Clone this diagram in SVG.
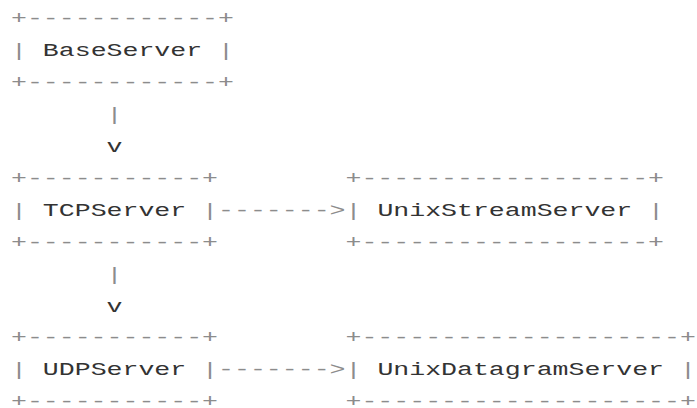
<svg xmlns="http://www.w3.org/2000/svg" width="697" height="408" viewBox="0 0 697 408">
<style>
text{font-family:"Liberation Mono","DejaVu Sans Mono",monospace;font-size:18px;white-space:pre;fill:#8c8c8c}
.t{fill:#333333}
</style>
<rect width="697" height="408" fill="#ffffff"/>
<g transform="scale(1.475,1)">
<g id="connectors">
<text x="72.26" y="120.2">|</text>
<text x="72.26" y="152.1" class="t">v</text>
<text x="72.26" y="279.7">|</text>
<text x="72.26" y="311.6" class="t">v</text>
<text x="147.86" y="215.9">-------&gt;</text>
<text x="147.86" y="375.4">-------&gt;</text>
</g>
<g id="BaseServer">
<text x="7.46" y="24.5">+------------+</text>
<text x="7.46" y="56.4" xml:space="preserve">| <tspan class="t">BaseServer</tspan> |</text>
<text x="7.46" y="88.3">+------------+</text>
</g>
<g id="TCPServer">
<text x="7.46" y="184">+-----------+</text>
<text x="7.46" y="215.9" xml:space="preserve">| <tspan class="t">TCPServer</tspan> |</text>
<text x="7.46" y="247.8">+-----------+</text>
</g>
<g id="UDPServer">
<text x="7.46" y="343.5">+-----------+</text>
<text x="7.46" y="375.4" xml:space="preserve">| <tspan class="t">UDPServer</tspan> |</text>
<text x="7.46" y="407.3">+-----------+</text>
</g>
<g id="UnixStreamServer">
<text x="234.26" y="184">+------------------+</text>
<text x="234.26" y="215.9" xml:space="preserve">| <tspan class="t">UnixStreamServer</tspan> |</text>
<text x="234.26" y="247.8">+------------------+</text>
</g>
<g id="UnixDatagramServer">
<text x="234.26" y="343.5">+--------------------+</text>
<text x="234.26" y="375.4" xml:space="preserve">| <tspan class="t">UnixDatagramServer</tspan> |</text>
<text x="234.26" y="407.3">+--------------------+</text>
</g>
</g>
</svg>
